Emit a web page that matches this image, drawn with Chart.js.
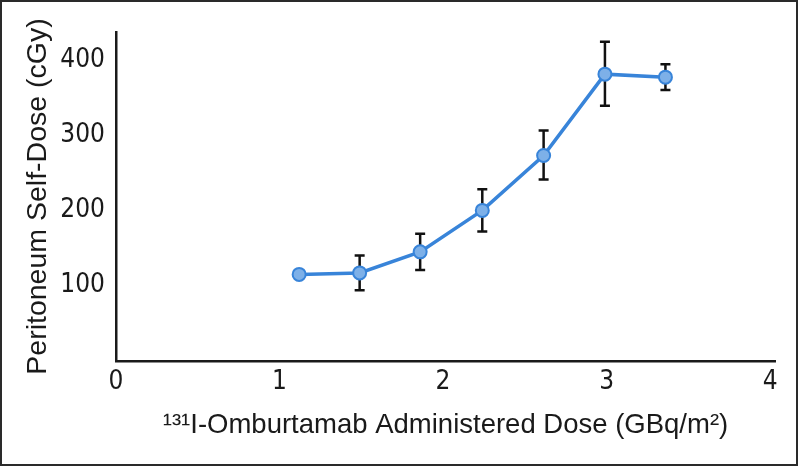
<!DOCTYPE html>
<html>
<head>
<meta charset="utf-8">
<script src="https://cdn.jsdelivr.net/npm/chart.js@4"></script>
<style>
  html, body { margin: 0; padding: 0; background: #fff; }
  #chart { display: block; outline: 2px solid #2a2a2a; outline-offset: -2px; }
</style>
</head>
<body>
<canvas id="chart" width="798" height="466"></canvas>
<script>
// administered dose (GBq/m2) and peritoneum self-dose (cGy)
const doses = [1.12, 1.49, 1.86, 2.24, 2.615, 2.99, 3.36];
const selfDose = [115, 117, 145, 200, 273, 381, 377];
const errHigh = [null, 140, 169, 228, 306, 424, 394];
const errLow = [null, 94, 121, 172, 241, 339, 360];
const xTicks = [0, 1, 2, 3, 4];
const yTicks = [100, 200, 300, 400];

const lineBlue = '#3884d9';
const pointFill = '#7db0e8';
const tickFont = '"Liberation Sans Narrow", "DejaVu Sans Condensed", sans-serif';

// draws the vertical error bars behind the points
const errorBars = {
    id: 'errorBars',
    beforeDatasetsDraw(chart) {
        const ctx = chart.ctx;
        const xs = chart.scales.x;
        const ys = chart.scales.y;
        ctx.save();
        ctx.strokeStyle = '#111';
        ctx.lineWidth = 2.5;
        doses.forEach((d, i) => {
            if (errHigh[i] == null) return;
            const x = xs.getPixelForValue(d);
            const yTop = ys.getPixelForValue(errHigh[i]);
            const yBot = ys.getPixelForValue(errLow[i]);
            ctx.beginPath();
            ctx.moveTo(x, yTop);
            ctx.lineTo(x, yBot);
            ctx.moveTo(x - 5, yTop);
            ctx.lineTo(x + 5, yTop);
            ctx.moveTo(x - 5, yBot);
            ctx.lineTo(x + 5, yBot);
            ctx.stroke();
        });
        ctx.restore();
    }
};

new Chart(document.getElementById('chart'), {
    type: 'line',
    data: {
        datasets: [{
            data: doses.map((d, i) => ({ x: d, y: selfDose[i] })),
            borderColor: lineBlue,
            borderWidth: 3.5,
            backgroundColor: pointFill,
            pointBackgroundColor: pointFill,
            pointBorderColor: lineBlue,
            pointBorderWidth: 2,
            pointRadius: 6.5,
            tension: 0,
            fill: false
        }]
    },
    options: {
        responsive: false,
        animation: false,
        devicePixelRatio: 1,
        layout: { padding: { top: 32, right: 23, left: 0, bottom: 0 } },
        plugins: {
            legend: { display: false },
            tooltip: { enabled: false }
        },
        scales: {
            x: {
                type: 'linear',
                min: 0,
                max: 4.03,
                afterBuildTicks: (s) => { s.ticks = xTicks.map(v => ({ value: v })); },
                afterFit: (s) => { s.height = 105; },
                grid: { display: false, drawTicks: false },
                border: { display: true, color: '#1a1a1a', width: 2.5 },
                ticks: {
                    padding: 6,
                    color: '#1a1a1a',
                    maxRotation: 0,
                    font: { family: tickFont, size: 26 }
                },
                title: {
                    display: true,
                    text: '¹³¹I-Omburtamab Administered Dose (GBq/m²)',
                    color: '#1a1a1a',
                    padding: { top: 0, bottom: 24 },
                    font: { family: '"Liberation Sans", Arial, sans-serif', size: 27.5 }
                }
            },
            y: {
                type: 'linear',
                min: 0,
                max: 437,
                afterBuildTicks: (s) => { s.ticks = yTicks.map(v => ({ value: v })); },
                afterFit: (s) => { s.width = 116; },
                grid: { display: false, drawTicks: false },
                border: { display: true, color: '#1a1a1a', width: 2.5 },
                ticks: {
                    padding: 11,
                    color: '#1a1a1a',
                    font: { family: tickFont, size: 26 }
                },
                title: {
                    display: true,
                    text: 'Peritoneum Self-Dose (cGy)',
                    color: '#1a1a1a',
                    padding: { top: 21, bottom: 0 },
                    font: { family: '"Liberation Sans", Arial, sans-serif', size: 28.5 }
                }
            }
        }
    },
    plugins: [errorBars]
});
</script>
</body>
</html>
